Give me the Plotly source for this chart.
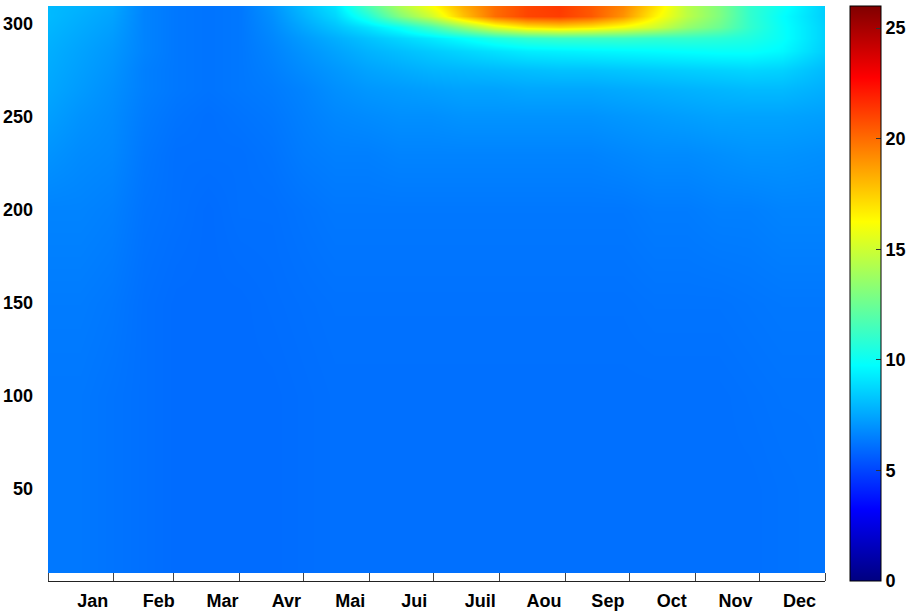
import plotly.graph_objects as go

# Day-of-year sample positions (columns) and heights (rows)
days = [0, 15, 30, 45, 60, 75, 90, 105, 120, 135, 150, 165, 180, 195, 210,
        225, 240, 255, 270, 285, 300, 315, 330, 345, 365]
levels = [5, 50, 100, 150, 200, 230, 250, 265, 275, 285, 292, 298, 304, 309]

row_5   = [6.3, 6.3, 6.2, 6.1, 6.0, 6.0, 6.0, 6.0, 6.05, 6.1, 6.1, 6.1, 6.1, 6.1, 6.1, 6.1, 6.1, 6.1, 6.1, 6.1, 6.1, 6.1, 6.1, 6.15, 6.2]
row_50  = [6.3, 6.3, 6.2, 6.1, 6.0, 6.0, 6.0, 6.0, 6.05, 6.1, 6.1, 6.1, 6.1, 6.1, 6.1, 6.1, 6.1, 6.1, 6.1, 6.1, 6.1, 6.1, 6.1, 6.15, 6.2]
row_100 = [6.3, 6.3, 6.2, 6.1, 6.0, 6.0, 6.0, 6.0, 6.05, 6.1, 6.1, 6.1, 6.1, 6.1, 6.1, 6.1, 6.1, 6.1, 6.1, 6.1, 6.1, 6.1, 6.15, 6.2, 6.2]
row_150 = [6.4, 6.4, 6.3, 6.1, 6.0, 6.0, 6.0, 6.05, 6.1, 6.15, 6.15, 6.15, 6.15, 6.15, 6.15, 6.15, 6.15, 6.15, 6.15, 6.2, 6.2, 6.2, 6.25, 6.3, 6.3]
row_200 = [6.6, 6.6, 6.5, 6.2, 6.1, 6.0, 6.1, 6.1, 6.2, 6.3, 6.3, 6.3, 6.3, 6.3, 6.3, 6.3, 6.3, 6.3, 6.3, 6.4, 6.4, 6.5, 6.5, 6.6, 6.6]
row_230 = [7.0, 6.8, 6.7, 6.3, 6.1, 6.1, 6.1, 6.2, 6.4, 6.5, 6.5, 6.6, 6.6, 6.6, 6.6, 6.6, 6.6, 6.6, 6.7, 6.8, 6.8, 6.9, 7.0, 7.0, 6.9]
row_250 = [7.3, 7.0, 6.8, 6.4, 6.2, 6.1, 6.2, 6.3, 6.5, 6.7, 6.8, 6.9, 6.9, 7.0, 7.0, 7.0, 7.0, 7.0, 7.1, 7.2, 7.3, 7.4, 7.4, 7.4, 7.3]
row_265 = [7.5, 7.2, 6.9, 6.5, 6.3, 6.2, 6.3, 6.4, 6.6, 6.9, 7.1, 7.2, 7.3, 7.4, 7.4, 7.5, 7.5, 7.5, 7.6, 7.7, 7.8, 7.9, 8.0, 8.0, 7.7]
row_275 = [7.6, 7.3, 7.0, 6.5, 6.3, 6.2, 6.3, 6.5, 6.8, 7.1, 7.4, 7.6, 7.8, 7.9, 8.0, 8.1, 8.2, 8.2, 8.3, 8.4, 8.5, 8.6, 8.7, 8.6, 8.0]
row_285 = [7.7, 7.4, 7.1, 6.6, 6.3, 6.2, 6.3, 6.6, 7.0, 7.4, 7.8, 8.1, 8.4, 8.7, 9.0, 9.3, 9.4, 9.5, 9.6, 9.7, 9.8, 9.9, 9.9, 9.6, 8.5]
row_292 = [7.8, 7.5, 7.2, 6.6, 6.3, 6.2, 6.3, 6.7, 7.2, 7.7, 8.2, 8.7, 9.2, 9.8, 10.5, 11.0, 11.2, 11.2, 11.2, 11.0, 11.0, 10.8, 10.5, 9.9, 8.6]
row_298 = [7.9, 7.6, 7.3, 6.6, 6.3, 6.2, 6.3, 6.8, 7.5, 8.2, 9.0, 10.0, 11.5, 13.5, 15.5, 16.8, 17.2, 16.8, 16.0, 15.0, 13.5, 12.5, 11.0, 9.9, 8.6]
row_304 = [8.0, 7.7, 7.4, 6.6, 6.3, 6.2, 6.3, 6.9, 7.8, 8.7, 10.5, 13.0, 15.0, 17.8, 20.0, 21.0, 21.2, 20.5, 19.0, 16.5, 14.5, 13.0, 11.0, 9.8, 8.5]
row_309 = [8.0, 7.8, 7.5, 6.6, 6.3, 6.2, 6.3, 7.0, 8.0, 9.0, 11.5, 14.0, 16.0, 18.3, 20.0, 21.0, 21.3, 20.5, 19.3, 17.0, 14.5, 13.0, 11.0, 10.0, 8.5]

values = [row_5, row_50, row_100, row_150, row_200, row_230, row_250, row_265,
          row_275, row_285, row_292, row_298, row_304, row_309]

month_bounds = [0, 31, 59, 90, 120, 151, 181, 212, 243, 273, 304, 334, 365]
month_label_pos = [21, 52, 82, 112, 142, 172, 203, 233, 263, 293, 323, 353]
month_labels = ["Jan", "Feb", "Mar", "Avr", "Mai", "Jui", "Juil", "Aou",
                "Sep", "Oct", "Nov", "Dec"]
y_ticks = [50, 100, 150, 200, 250, 300]
cbar_ticks = [0, 5, 10, 15, 20, 25]

jet = [[0.0, "rgb(0,0,128)"], [0.125, "rgb(0,0,255)"], [0.375, "rgb(0,255,255)"],
       [0.625, "rgb(255,255,0)"], [0.875, "rgb(255,0,0)"], [1.0, "rgb(128,0,0)"]]

font_main = dict(family="Liberation Sans, Arial, sans-serif", size=18,
                 color="black", weight="bold")

fig = go.Figure(go.Heatmap(
    x=days, y=levels, z=values,
    zsmooth="best", colorscale=jet, zmin=0, zmax=26,
    colorbar=dict(
        x=(850 - 48) / 777, xanchor="left", xref="paper",
        y=0, yanchor="bottom", yref="paper", len=1, lenmode="fraction",
        thickness=31, xpad=0, ypad=0,
        outlinewidth=1, outlinecolor="black",
        tickvals=cbar_ticks, ticks="inside", ticklen=5, tickcolor="#333",
        tickfont=font_main,
    ),
))

fig.update_layout(
    width=916, height=614,
    margin=dict(l=48, r=91, t=6, b=33, autoexpand=False),
    plot_bgcolor="white", paper_bgcolor="white",
    showlegend=False,
    xaxis=dict(
        range=[0, 365], anchor="free", position=0, automargin=False,
        tickmode="array", tickvals=month_label_pos, ticktext=month_labels,
        ticks="", showgrid=False, zeroline=False,
        showline=True, linecolor="#222", linewidth=1,
        tickfont=font_main, ticklabelstandoff=3,
        minor=dict(tickmode="array", tickvals=month_bounds, ticks="inside",
                   ticklen=8, tickcolor="#444", showgrid=False),
    ),
    yaxis=dict(
        range=[5, 309.3], domain=[8 / 575, 1], automargin=False,
        tickmode="array", tickvals=y_ticks,
        ticks="", showgrid=False, zeroline=False, showline=False,
        tickfont=font_main, ticklabelstandoff=14,
    ),
)

fig.write_html("out.html", config={"displayModeBar": False},
               post_script="document.body.style.margin='0';")
